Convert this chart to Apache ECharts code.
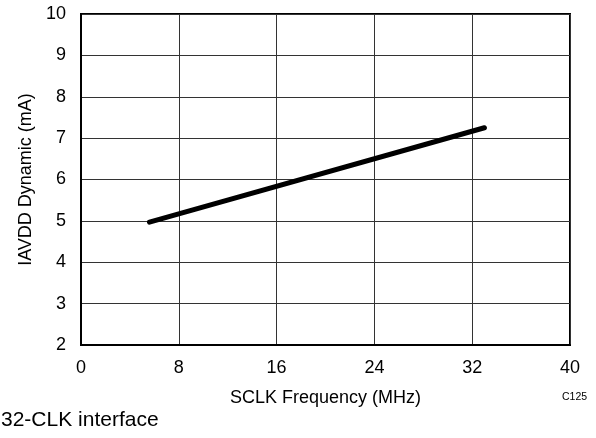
<!DOCTYPE html>
<html>
<head>
<meta charset="utf-8">
<script src="https://cdn.jsdelivr.net/npm/echarts@6/dist/echarts.min.js"></script>
<style>
html,body{margin:0;padding:0;background:#fff;}
#chart{width:596px;height:438px;}
</style>
</head>
<body>
<div id="chart"></div>
<script>
const freqMHz = [5.6, 33];
const iavddMA = [4.97, 7.25];
const xTicks = [0, 8, 16, 24, 32, 40];
const yTicks = [2, 3, 4, 5, 6, 7, 8, 9, 10];
const xTitle = 'SCLK Frequency (MHz)';
const yTitle = 'IAVDD Dynamic (mA)';
const figId = 'C125';
const caption = '32-CLK interface';

const font = 'Liberation Sans, Arial, sans-serif';
const chart = echarts.init(document.getElementById('chart'), null, {renderer: 'canvas'});
chart.setOption({
  animation: false,
  backgroundColor: '#fff',
  grid: {left: 81, top: 14, right: 26, bottom: 93, show: true, borderColor: '#000', borderWidth: 2, containLabel: false},
  xAxis: {
    type: 'value', min: xTicks[0], max: xTicks[xTicks.length - 1], interval: 8,
    name: xTitle, nameLocation: 'middle', nameGap: 44,
    nameTextStyle: {fontFamily: font, fontSize: 18, color: '#000'},
    axisLine: {show: true, lineStyle: {color: '#000', width: 2}},
    axisTick: {show: false},
    axisLabel: {fontFamily: font, fontSize: 18, color: '#000', margin: 14},
    splitLine: {show: true, lineStyle: {color: '#333', width: 1}}
  },
  yAxis: {
    type: 'value', min: yTicks[0], max: yTicks[yTicks.length - 1], interval: 1,
    name: yTitle, nameLocation: 'middle', nameGap: 42,
    nameTextStyle: {fontFamily: font, fontSize: 18, color: '#000'},
    axisLine: {show: true, lineStyle: {color: '#000', width: 2}},
    axisTick: {show: false},
    axisLabel: {fontFamily: font, fontSize: 18, color: '#000', margin: 15},
    splitLine: {show: true, lineStyle: {color: '#333', width: 1}}
  },
  series: [{
    type: 'line',
    data: freqMHz.map((f, i) => [f, iavddMA[i]]),
    showSymbol: false,
    lineStyle: {color: '#000', width: 5, cap: 'round'},
    z: 5
  }],
  graphic: [
    {type: 'text', left: 562, top: 392, style: {text: figId, font: '10.5px ' + font, fill: '#000'}},
    {type: 'text', left: 1, top: 410, style: {text: caption, font: '21px ' + font, fill: '#000'}}
  ]
});
</script>
</body>
</html>
